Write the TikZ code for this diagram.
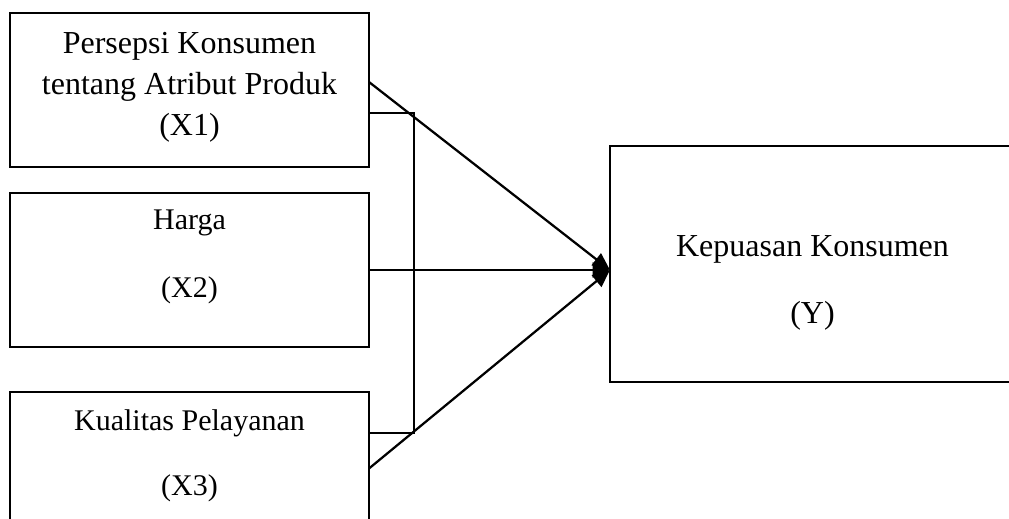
\documentclass[tikz,border=0pt]{standalone}
\usepackage{fontspec}
\setmainfont{Liberation Serif}
\usetikzlibrary{arrows.meta}
\tikzset{
    varbox/.style={draw, line width=0.9pt, rectangle, inner sep=0pt, outer sep=0pt, anchor=north west},
    varlabel/.style={font=\fontsize{12}{16.4}\selectfont, align=center, inner sep=0pt},
    biglabel/.style={varlabel, font=\fontsize{12.8}{16.4}\selectfont},
    link/.style={line width=0.9pt, -{Triangle[length=7pt,width=6pt]}}
}

\begin{document}
\begin{tikzpicture}[x=0.4pt, y=-0.4pt]
                \useasboundingbox (0,0) rectangle (1009,519);
                \clip (0,0) rectangle (1009,519);

                % Independent variables
                \node[varbox, minimum width=143.6pt, minimum height=61.6pt] (x1) at (10,13) {};
                \node[varbox, minimum width=143.6pt, minimum height=61.6pt] (x2) at (10,193) {};
                \node[varbox, minimum width=143.6pt, minimum height=61.2pt] (x3) at (10,392) {};

                % Dependent variable
                \node[varbox, minimum width=162pt, minimum height=94.4pt] (y) at (610,146) {};

                % Labels
                \node[biglabel] (x1text) at (189.5,87.5) {Persepsi Konsumen\\tentang Atribut Produk\\(X1)};
                \node[varlabel] (x2text) at (189.5,257) {Harga\\[10.8pt](X2)};
                \node[varlabel] (x3text) at (189.5,455.5) {Kualitas Pelayanan\\[9.6pt](X3)};
                \node[biglabel] (ytext) at (812.5,283) {Kepuasan Konsumen\\[10.4pt](Y)};

                % Correlation bracket
                \coordinate (jtop) at (414,113);
                \coordinate (jbot) at (414,433);
                \draw[line width=0.9pt] (x1.east |- jtop) -- (jtop) -- (jbot) -- (x3.east |- jbot);

                % Arrows
                \coordinate (hub) at (y.west |- x2.east);
                \draw[link] ([yshift=3.2pt]x1.east) -- (hub);
                \draw[link] (x2.east) -- (hub);
                \draw[link] (x3.east) -- (hub);
            \end{tikzpicture}
\end{document}
